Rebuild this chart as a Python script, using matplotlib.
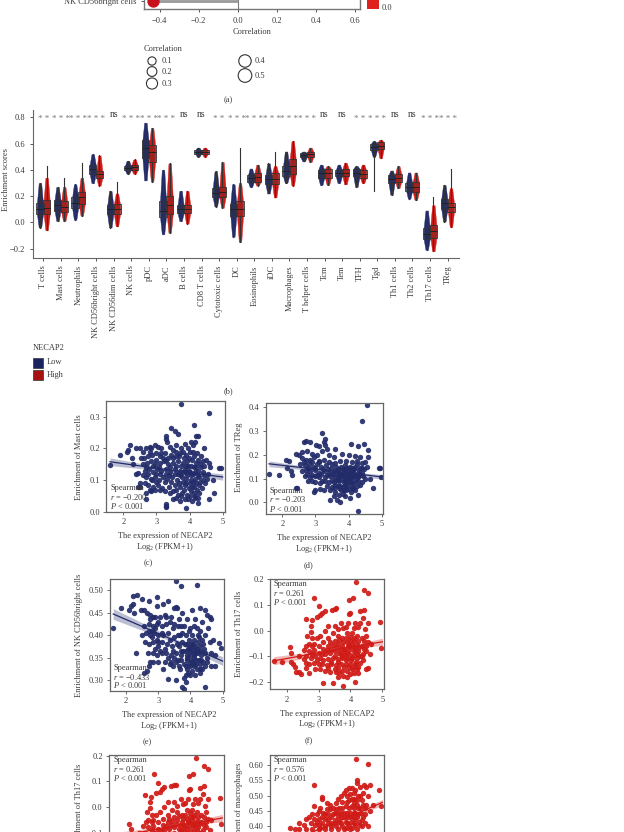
import matplotlib
matplotlib.use('Agg')
import matplotlib.pyplot as plt
from matplotlib.patches import Rectangle

plt.rcParams['font.family'] = ['Liberation Serif', 'DejaVu Serif']
plt.rcParams['mathtext.fontset'] = 'custom'
plt.rcParams['mathtext.rm'] = 'Liberation Serif'
plt.rcParams['mathtext.it'] = 'Liberation Serif:italic'

W, H = 624, 832
FS = 6.0
TXT = '#3a3a3a'
NAVY = '#232c6a'
RED = '#d01a16'

# panel a (only the last row is visible)
bright_corr = -0.433
legend_sizes = [0.1, 0.2, 0.3, 0.4, 0.5]

# panel b
cells = ['T cells', 'Mast cells', 'Neutrophils', 'NK CD56bright cells', 'NK CD56dim cells',
         'NK cells', 'pDC', 'aDC', 'B cells', 'CD8 T cells', 'Cytotoxic cells', 'DC',
         'Eosinophils', 'iDC', 'Macrophages', 'T helper cells', 'Tcm', 'Tem', 'TFH', 'Tgd',
         'Th1 cells', 'Th2 cells', 'Th17 cells', 'TReg']
signif = ['**', '***', '***', '***', 'ns', '***', '***', '***', 'ns', 'ns', '**', '***',
          '***', '***', '***', '***', 'ns', 'ns', '**', '***', 'ns', 'ns', '***', '***']
# min, q1, median, q3, max
low_stats = [(-.04, .06, .10, .15, .30), (.01, .09, .13, .17, .27), (.02, .11, .15, .19, .29),
             (.30, .37, .41, .44, .52), (-.04, .06, .10, .13, .24), (.37, .40, .415, .43, .47),
             (.32, .49, .57, .63, .76), (-.09, .04, .09, .16, .40), (.01, .07, .10, .13, .24),
             (.50, .525, .535, .55, .57), (.12, .19, .22, .26, .39), (-.11, .05, .10, .14, .29),
             (.27, .31, .34, .36, .41), (.22, .29, .33, .36, .45), (.30, .35, .39, .43, .54),
             (.465, .495, .51, .53, .54), (.285, .34, .375, .40, .44), (.30, .35, .375, .40, .44),
             (.27, .35, .38, .41, .43), (.24, .55, .575, .60, .62), (.21, .30, .33, .36, .395),
             (.18, .24, .27, .30, .38), (-.21, -.13, -.09, -.04, .09), (.005, .10, .15, .18, .285)]
high_stats = [(-.06, .06, .11, .17, .43), (.01, .08, .12, .16, .34), (.05, .14, .19, .23, .45),
              (.28, .34, .37, .39, .51), (-.03, .06, .10, .14, .31), (.37, .40, .42, .44, .48),
              (.31, .46, .54, .59, .72), (-.08, .06, .13, .20, .45), (-.01, .07, .10, .13, .24),
              (.50, .525, .535, .55, .57), (.11, .19, .23, .27, .46), (-.15, .05, .10, .16, .57),
              (.28, .31, .345, .38, .44), (.19, .29, .33, .38, .54), (.28, .37, .43, .48, .62),
              (.46, .50, .52, .54, .57), (.285, .34, .375, .41, .43), (.29, .35, .375, .41, .455),
              (.30, .34, .37, .40, .44), (.49, .56, .585, .61, .63), (.26, .31, .335, .37, .43),
              (.17, .23, .27, .31, .38), (-.22, -.12, -.07, -.02, .19), (-.035, .08, .12, .15, .41)]
# where the dots stop short of a long whisker: index -> (bottom, top)
low_strip_ends = {19: (.50, .62)}
high_strip_ends = {0: (-.06, .34), 1: (.01, .27), 2: (.05, .34), 4: (-.03, .22), 11: (-.15, .30),
                   13: (.19, .43), 22: (-.22, .13), 23: (-.035, .26)}

# scatter panels, points
mast_pts = [(3.73,.34),(4.58,.31),(3.43,.265),(4.13,.275),(3.55,.255),(3.65,.245),(3.3,.24),(3.3,.23),(3.32,.22),(4.2,.24),(4.26,.24),
 (4.05,.22),(4.15,.22),(4.1,.21),(4.45,.2),(1.6,.147),(1.9,.18),(2.2,.21),(2.15,.195),(2.1,.19),(2.25,.17),(2.3,.15),(2.4,.2),(2.5,.2),
 (2.45,.122),(2.38,.12),(2.5,.09),(2.5,.08),(2.45,.08),(2.7,.06),(2.7,.04),(3.3,.024),(3.3,.015),(3.28,.02),(3.9,.012),(4.25,.027),
 (4.95,.138),(4.9,.138),(4.7,.1),(4.75,.06),(4.6,.04),(2.6,.19),(2.7,.2),(2.8,.205),(2.95,.21),(3.05,.205),(3.15,.2),(3.4,.205),(3.6,.21),
 (3.75,.2),(3.85,.215),(2.62,.17),(2.75,.175),(2.88,.18),(3.0,.185),(3.12,.175),(3.25,.185),(3.45,.18),(3.58,.175),(3.7,.185),(3.9,.18),
 (4.02,.19),(4.22,.185),(4.35,.175),(4.5,.165),(4.58,.155),(4.62,.14),(2.6,.15),(2.72,.155),(2.85,.16),(2.97,.15),(3.1,.155),(3.22,.16),
 (3.35,.15),(3.5,.155),(3.65,.16),(3.8,.155),(3.93,.16),(4.08,.165),(4.2,.155),(4.33,.15),(4.45,.145),(2.65,.13),(2.78,.135),(2.9,.125),
 (3.02,.135),(3.15,.13),(3.28,.135),(3.42,.125),(3.56,.135),(3.7,.13),(3.85,.135),(3.98,.13),(4.12,.14),(4.27,.13),(4.4,.125),(4.55,.12),
 (2.7,.11),(2.83,.105),(2.95,.11),(3.08,.1),(3.2,.11),(3.33,.105),(3.48,.11),(3.62,.1),(3.76,.11),(3.9,.105),(4.03,.115),(4.17,.105),
 (4.3,.11),(4.42,.1),(2.75,.085),(2.9,.08),(3.05,.085),(3.18,.075),(3.38,.08),(3.55,.085),(3.72,.08),(3.86,.085),(4.0,.09),(4.14,.08),
 (4.28,.085),(4.48,.09),(2.85,.065),(3.1,.07),(3.4,.06),(3.6,.045),(3.78,.06),(3.92,.055),(4.05,.065),(4.18,.05),(4.3,.06),(3.5,.04),
 (3.7,.035),(3.85,.04),(4.08,.035),(4.15,.045),(3.65,.12),(3.95,.145),(4.1,.12),(3.3,.12),(3.0,.12),(3.8,.095),(4.05,.1),(3.9,.125)]
mast_core = [(2.68,.14),(2.8,.19),(2.9,.145),(3.0,.165),(3.08,.14),(3.2,.17),(3.3,.165),(3.4,.14),(3.5,.17),(3.58,.145),(3.68,.175),(3.75,.145),(3.82,.17),
 (3.9,.145),(3.98,.17),(4.05,.145),(4.12,.175),(4.2,.14),(4.27,.165),(4.35,.14),(4.42,.16),(2.75,.12),(2.88,.1),(3.0,.095),(3.12,.12),(3.25,.095),(3.38,.115),
 (3.45,.095),(3.55,.12),(3.6,.07),(3.68,.09),(3.72,.115),(3.8,.125),(3.83,.07),(3.88,.09),(3.93,.115),(3.97,.075),(4.02,.125),(4.07,.08),(4.1,.095),(4.15,.125),
 (4.2,.09),(4.22,.07),(4.25,.115),(4.33,.095),(4.38,.075),(4.45,.115),(4.52,.105),(3.5,.065),(3.65,.055),(3.75,.05),(3.95,.04),(4.0,.05),(4.12,.06),(4.25,.045),
 (3.35,.17),(3.6,.19),(3.8,.19),(3.95,.2),(4.1,.19),(2.55,.17),(2.85,.2),(3.15,.185),(3.5,.195),(2.95,.07),(3.25,.065),(2.65,.09),(2.6,.115),(2.8,.07)]
treg_pts = [(4.57,.41),(4.42,.34),(3.2,.29),(3.28,.265),(3.25,.255),(2.72,.26),(2.65,.255),(2.85,.255),(3.02,.24),(3.1,.235),(4.07,.245),
 (4.48,.245),(3.3,.24),(3.35,.225),(3.6,.225),(4.58,.22),(4.3,.235),(1.6,.12),(1.9,.115),(2.1,.18),(2.2,.175),(2.15,.145),(2.25,.13),
 (2.3,.115),(2.4,.205),(2.5,.2),(2.4,.06),(2.45,.06),(3.0,.05),(2.95,.045),(3.15,.055),(3.25,.05),(3.45,.01),(3.55,.025),(3.65,.01),(3.75,.0),
 (3.9,.025),(4.05,.02),(4.3,-.037),(4.3,.03),(4.95,.145),(4.92,.145),(4.97,.105),(4.75,.06),(4.65,.1),(4.6,.19),(4.5,.17),(2.6,.21),
 (2.75,.215),(2.9,.205),(3.05,.2),(3.2,.215),(3.4,.2),(3.55,.19),(3.8,.205),(4.0,.2),(4.2,.195),(4.35,.19),(2.6,.185),(2.72,.18),(2.85,.18),
 (2.97,.19),(3.12,.175),(3.27,.18),(3.42,.17),(3.6,.165),(3.75,.175),(3.93,.175),(4.1,.17),(4.25,.175),(4.4,.165),(4.55,.15),(2.55,.16),
 (2.68,.155),(2.8,.16),(2.92,.15),(3.05,.16),(3.18,.15),(3.32,.155),(3.48,.145),(3.62,.15),(3.78,.15),(3.9,.155),(4.05,.15),(4.2,.15),
 (4.35,.145),(4.48,.14),(2.6,.13),(2.72,.135),(2.85,.13),(2.98,.135),(3.1,.125),(3.25,.13),(3.4,.125),(3.55,.13),(3.7,.125),(3.85,.13),
 (4.0,.13),(4.13,.135),(4.28,.125),(4.42,.125),(2.7,.11),(2.83,.105),(2.98,.11),(3.12,.105),(3.28,.105),(3.45,.11),(3.6,.105),(3.75,.11),
 (3.88,.105),(4.02,.11),(4.15,.105),(4.3,.11),(4.5,.1),(2.78,.09),(3.0,.085),(3.2,.09),(3.4,.085),(3.55,.085),(3.7,.09),(3.85,.085),(3.98,.09),
 (4.12,.085),(4.28,.09),(4.42,.085),(3.35,.07),(3.5,.065),(3.68,.07),(3.82,.065),(3.95,.07),(4.1,.065),(4.25,.07),(3.45,.05),(3.6,.045),
 (3.78,.05),(3.92,.05),(4.08,.045),(4.2,.05),(3.9,.12),(3.95,.1),(4.05,.12),(3.8,.115),(4.1,.12)]
treg_core = [(2.65,.17),(2.78,.145),(2.9,.17),(3.0,.145),(3.1,.17),(3.22,.14),(3.38,.14),(3.5,.16),(3.65,.135),(3.72,.14),(3.82,.14),(3.88,.14),(3.96,.145),(4.03,.14),
 (4.1,.145),(4.18,.14),(4.25,.16),(4.32,.135),(4.4,.145),(2.75,.12),(2.9,.115),(3.05,.115),(3.18,.12),(3.35,.115),(3.5,.12),(3.6,.12),(3.68,.1),(3.72,.115),(3.78,.1),
 (3.85,.12),(3.9,.095),(3.95,.115),(4.0,.1),(4.05,.095),(4.1,.11),(4.15,.125),(4.2,.115),(4.22,.095),(4.28,.105),(4.35,.115),(4.45,.11),(3.6,.075),(3.75,.07),(3.88,.075),
 (3.92,.085),(4.05,.08),(4.18,.08),(4.35,.075),(3.5,.095),(3.65,.095),(3.3,.09),(3.15,.08),(2.9,.09),(3.55,.06),(3.72,.06),(3.85,.05),(4.0,.055),(4.15,.06),(3.7,.03),(3.82,.035)]
bright_pts = [(3.55,.52),(3.72,.51),(4.2,.512),(2.35,.49),(2.2,.487),(2.5,.48),(2.7,.475),(2.95,.485),(3.3,.475),(3.15,.47),(1.6,.415),
 (1.85,.46),(2.1,.455),(2.15,.465),(2.2,.47),(2.25,.45),(2.45,.455),(2.55,.455),(2.95,.465),(3.5,.46),(3.55,.462),(3.58,.46),(3.75,.45),
 (4.05,.455),(4.3,.46),(4.45,.455),(4.5,.445),(4.6,.44),(4.65,.435),(2.3,.36),(2.65,.45),(2.75,.445),(2.85,.44),(3.05,.44),(3.2,.445),(3.4,.44),
 (3.65,.435),(3.9,.435),(4.15,.435),(4.35,.43),(2.55,.42),(2.7,.425),(2.82,.42),(2.95,.425),(3.1,.42),(3.25,.425),(3.45,.415),(3.6,.42),
 (3.8,.42),(4.0,.415),(4.2,.415),(4.55,.415),(2.5,.4),(2.62,.405),(2.75,.4),(2.88,.405),(3.0,.4),(3.15,.4),(3.3,.405),(3.5,.395),(3.68,.4),
 (3.85,.4),(4.05,.4),(4.25,.395),(4.45,.4),(2.6,.385),(2.72,.38),(2.85,.385),(2.98,.375),(3.12,.385),(3.28,.38),(3.42,.375),(3.58,.38),(3.75,.385),
 (3.9,.38),(4.08,.38),(4.22,.385),(4.4,.38),(4.6,.385),(2.68,.36),(2.82,.36),(2.95,.355),(3.1,.36),(3.25,.36),(3.4,.355),(3.55,.36),(3.7,.365),
 (3.85,.365),(4.0,.365),(4.15,.36),(4.3,.365),(4.45,.36),(2.85,.34),(3.0,.34),(3.2,.34),(3.35,.335),(3.55,.34),(3.72,.345),(3.88,.35),(4.02,.345),
 (4.18,.345),(4.32,.345),(4.5,.34),(3.15,.325),(3.45,.33),(3.68,.325),(3.85,.33),(3.98,.33),(4.12,.33),(4.28,.325),(4.45,.33),(4.65,.33),(4.75,.33),
 (2.55,.315),(2.65,.32),(2.7,.33),(2.75,.34),(3.3,.302),(3.55,.3),(3.8,.305),(3.85,.295),(4.0,.31),(4.15,.31),(4.3,.315),(3.75,.285),(3.8,.28),
 (4.45,.285),(4.9,.382),(4.95,.372),(4.7,.39),(4.75,.355),(4.65,.36),(3.95,.37),(4.1,.355),(3.9,.355),(4.05,.375),(4.2,.37)]
bright_core = [(2.7,.41),(2.8,.395),(2.9,.415),(3.0,.385),(3.1,.405),(2.75,.435),(2.9,.44),(3.0,.43),(3.25,.44),(3.35,.43),(3.35,.39),(3.5,.425),(3.6,.4),(3.65,.375),(3.75,.405),
 (3.78,.365),(3.82,.38),(3.88,.345),(3.92,.37),(3.95,.39),(3.98,.355),(4.02,.38),(4.05,.34),(4.08,.365),(4.1,.39),(4.12,.35),(4.15,.375),(4.18,.335),(4.2,.36),(4.22,.4),(4.25,.345),
 (4.28,.375),(4.32,.355),(4.35,.39),(4.38,.34),(4.42,.37),(4.5,.35),(3.6,.345),(3.65,.33),(3.72,.355),(3.8,.335),(3.9,.325),(3.95,.335),(4.05,.32),(4.1,.335),(4.2,.325),(4.3,.335),
 (4.35,.325),(3.4,.34),(3.45,.365),(3.5,.35),(3.3,.35),(3.2,.37),(3.05,.365),(2.9,.37),(2.8,.41),(2.95,.39),(3.7,.42),(3.95,.41),(4.1,.42),(4.3,.41),(3.85,.31),(3.92,.315)]
th17_pts = [(4.18,.19),(4.42,.16),(4.55,.148),(2.87,.128),(4.08,.127),(3.95,.12),(3.0,.095),(3.42,.08),(3.5,.085),(3.55,.087),(3.2,.077),(3.12,.07),
 (3.05,.06),(2.95,.055),(3.98,.07),(3.95,.065),(4.3,.075),(4.42,.08),(4.4,.05),(4.3,.03),(4.55,.03),(4.92,.035),(2.6,.045),(2.78,.04),(2.75,.02),
 (1.6,-.117),(1.85,-.12),(2.1,-.065),(2.15,-.085),(2.15,-.12),(2.2,-.13),(2.25,-.14),(2.3,-.16),(2.4,-.16),(2.45,-.17),(2.4,-.1),(2.55,-.11),(2.6,-.145),
 (2.7,-.165),(3.15,-.205),(3.45,-.205),(3.6,-.18),(3.78,-.217),(3.9,-.18),(4.0,-.17),(4.15,-.2),(4.25,-.165),(4.5,-.15),(4.55,-.145),(4.97,-.068),
 (2.75,-.005),(2.8,-.03),(3.05,-.02),(3.3,.02),(3.5,.02),(3.7,.03),(3.78,.01),(3.92,.03),(4.15,.03),(4.25,.015),(4.45,.005),(2.7,-.05),(2.85,-.05),
 (3.0,-.06),(3.15,-.045),(3.3,-.03),(3.45,-.01),(3.6,-.02),(3.75,-.03),(3.9,-.01),(4.05,-.01),(4.2,-.02),(4.35,-.03),(4.5,-.02),(4.65,-.05),
 (2.55,-.075),(2.7,-.08),(2.85,-.075),(3.0,-.085),(3.15,-.07),(3.3,-.06),(3.45,-.055),(3.6,-.05),(3.75,-.06),(3.9,-.045),(4.05,-.05),(4.2,-.055),
 (4.35,-.06),(4.5,-.06),(2.6,-.1),(2.75,-.105),(2.9,-.1),(3.05,-.105),(3.2,-.09),(3.35,-.085),(3.5,-.08),(3.65,-.085),(3.8,-.08),(3.95,-.075),(4.1,-.08),
 (4.25,-.08),(4.4,-.09),(2.7,-.13),(2.85,-.125),(3.0,-.13),(3.15,-.115),(3.3,-.11),(3.45,-.105),(3.6,-.11),(3.75,-.105),(3.9,-.105),(4.05,-.105),
 (4.2,-.105),(4.38,-.115),(2.9,-.15),(3.05,-.15),(3.25,-.135),(3.4,-.13),(3.55,-.135),(3.7,-.13),(3.85,-.13),(4.0,-.13),(4.15,-.13),(4.3,-.125),
 (3.35,-.16),(3.55,-.16),(3.72,-.155),(3.88,-.155),(4.05,-.15),(4.2,-.15),(3.8,-.07),(3.95,-.06),(4.1,-.04),(3.7,-.09)]
th17_core = [(2.8,-.09),(2.95,-.115),(3.1,-.09),(3.25,-.075),(3.4,-.07),(3.5,-.1),(3.55,-.065),(3.62,-.12),(3.68,-.07),(3.72,-.1),(3.78,-.045),(3.82,-.095),(3.85,-.115),(3.9,-.085),(3.92,-.06),
 (3.98,-.095),(4.0,-.04),(4.02,-.115),(4.08,-.065),(4.12,-.095),(4.15,-.07),(4.18,-.12),(4.22,-.09),(4.28,-.065),(4.3,-.1),(4.42,-.07),(4.5,-.08),(3.35,-.045),(3.5,-.04),(3.65,-.035),(3.85,-.03),
 (4.0,-.025),(4.12,-.03),(4.25,-.04),(3.4,-.12),(3.3,-.145),(3.5,-.15),(3.6,-.145),(3.8,-.14),(3.95,-.14),(4.1,-.14),(4.25,-.14),(2.6,-.125),(2.8,-.06),(2.95,-.03),(3.2,.0),(3.6,.005),(3.85,.015),
 (4.1,.01),(2.65,-.02),(2.62,-.06),(3.1,-.13),(3.2,-.155),(3.65,-.165),(3.78,-.175),(4.12,-.165),(4.35,-.1),(4.42,-.04),(4.55,-.045),(4.6,-.09)]
macro_pts = [(4.18,.62),(4.55,.603),(2.87,.535),(4.2,.55),(4.22,.54),(4.42,.535),(4.6,.535),(3.95,.525),(4.05,.525),(4.3,.53),(4.5,.53),(4.15,.52),(3.85,.52),
 (4.9,.52),(3.8,.51),(4.4,.51),(4.55,.5),(3.1,.495),(3.12,.49),(3.7,.5),(4.0,.505),(4.25,.5),(3.35,.47),(3.55,.475),(3.75,.48),(3.95,.485),(4.1,.49),
 (4.35,.485),(4.5,.47),(4.7,.47),(4.95,.465),(2.85,.465),(3.05,.46),(3.25,.455),(3.45,.46),(3.65,.46),(3.85,.465),(4.05,.465),(4.2,.47),(4.3,.46),(4.6,.45),
 (2.95,.44),(3.15,.445),(3.3,.44),(3.5,.445),(3.7,.445),(3.9,.445),(4.1,.445),(4.25,.44),(4.45,.44),(2.6,.425),(2.7,.43),(2.85,.425),(3.0,.425),(3.2,.425),
 (3.4,.43),(3.6,.43),(3.8,.43),(4.0,.43),(4.15,.425),(4.35,.42),(2.4,.41),(2.55,.405),(2.75,.41),(2.9,.405),(3.1,.41),(3.3,.41),(3.5,.41),(3.7,.41),(3.9,.41),
 (4.1,.41),(4.3,.405),(4.45,.41),(4.55,.4),(2.1,.395),(2.25,.39),(2.4,.39),(2.6,.39),(2.8,.39),(3.0,.39),(3.2,.39),(3.4,.39),(3.6,.39),(3.8,.39),(4.0,.39),(4.2,.39)]
macro_core = [(3.0,.405),(3.1,.43),(3.2,.4),(3.3,.425),(3.4,.41),(3.45,.44),(3.5,.42),(3.55,.4),(3.6,.445),(3.65,.415),(3.7,.43),(3.75,.4),(3.75,.46),(3.8,.445),(3.85,.415),(3.88,.48),(3.9,.43),(3.95,.4),
 (3.95,.46),(4.0,.445),(4.02,.415),(4.05,.49),(4.08,.43),(4.1,.475),(4.12,.46),(4.15,.405),(4.15,.445),(4.2,.485),(4.22,.43),(4.25,.46),(4.28,.415),(4.3,.5),(4.33,.445),(4.4,.47),(4.4,.43),(4.45,.46),
 (3.35,.455),(3.2,.44),(2.95,.415),(3.55,.455),(3.62,.49),(3.9,.5),(4.12,.51),(3.0,.45),(3.25,.475),(3.4,.4),(2.8,.44),(3.05,.395),(3.85,.395),(4.05,.395),(4.35,.4)]

reg_x = [1.6, 3.6, 5.0]
mast_fit, mast_band = [.158, .129, .11], [.012, .004, .01]
treg_fit, treg_band = [.162, .130, .107], [.012, .004, .01]
bright_fit, bright_band = [.447, .385, .342], [.012, .004, .01]
th17_fit, th17_band = [-.117, -.073, -.043], [.016, .005, .014]
macro_fit, macro_band = [.33, .415, .478], [.012, .004, .01]

fig = plt.figure(figsize=(W / 100, H / 100), dpi=100)


def px_axes(l, t, r, b):
    return fig.add_axes([l / W, 1 - b / H, (r - l) / W, (b - t) / H])


def px_text(x, y, s, **kw):
    kw.setdefault('fontsize', FS)
    kw.setdefault('color', TXT)
    kw.setdefault('ha', 'center')
    kw.setdefault('va', 'center')
    fig.text(x / W, 1 - y / H, s, **kw)


# ---- panel a
ax = px_axes(144, -100, 360, 9)
ax.set_xlim(-0.48, 0.625)
ax.set_ylim(-0.75, 10)
ax.axvline(0, color='#777777', lw=0.8)
ax.hlines(0, bright_corr, 0, color='#999999', lw=2)
ax.scatter([bright_corr], [0], s=62, color='#c8101a', zorder=3, clip_on=False)
ax.set_yticks([0], ['NK CD56bright cells'], fontsize=FS, color=TXT)
ax.set_xticks([-0.4, -0.2, 0, 0.2, 0.4, 0.6], ['\u22120.4', '\u22120.2', '0.0', '0.2', '0.4', '0.6'], fontsize=FS, color=TXT)
ax.tick_params(length=2.5, width=0.7, color='#555555', pad=3)
for s in ax.spines.values():
    s.set_color('#777777')
    s.set_linewidth(1)
fig.add_artist(Rectangle((367 / W, 1 - 9 / H), 12 / W, 20 / H, transform=fig.transFigure, color='#e0201c', lw=0))
px_text(387, 8, '0.0')
px_text(252, 32, 'Correlation')

# size legend
px_text(144, 49, 'Correlation', ha='left')
leg_x = [152, 152, 152, 245, 245]
leg_y = [61, 71.5, 83.5, 61, 75.5]
for v, lx, ly in zip(legend_sizes, leg_x, leg_y):
    r = 3.1 + 6.5 * v ** 0.8
    fig.add_artist(plt.Circle((lx, H - ly), r, transform=None, fill=False, ec='#333333', lw=0.8))
    px_text(lx + 9.5, ly, f'{v:.1f}', ha='left')
px_text(228, 100, '(a)')

# ---- panel b
ax = px_axes(33, 110, 458.7, 257.7)
ax.set_xlim(-0.586, 23.63)
ax.set_ylim(-0.27, 0.857)
offset = 0.19
prof = [0.07, 0.17, 0.18, 0.17, 0.07]
for i in range(len(cells)):
    for stats, col, sgn, ends in ((low_stats[i], NAVY, -1, low_strip_ends), (high_stats[i], RED, 1, high_strip_ends)):
        xc = i + sgn * offset
        lo = [xc - p for p in prof]
        hi = [xc + p for p in prof]
        bottom, top = ends.get(i, (stats[0], stats[4]))
        ax.fill_betweenx([bottom, stats[1], stats[2], stats[3], top], lo, hi, color=col, lw=0.3, zorder=3)
        ax.bxp([{'whislo': stats[0], 'q1': stats[1], 'med': stats[2], 'q3': stats[3], 'whishi': stats[4]}],
               positions=[xc], widths=0.42, showfliers=False, showcaps=False, manage_ticks=False,
               patch_artist=True, boxprops=dict(facecolor=(0.2, 0.2, 0.2, 0.3), edgecolor='#333333', lw=0.6),
               whiskerprops=dict(color='#333333', lw=0.8), medianprops=dict(color='#222222', lw=0.7), zorder=4)
    if signif[i] == 'ns':
        ax.text(i, 0.785, 'ns', ha='center', va='bottom', fontsize=7, color=TXT)
    else:
        ax.text(i, 0.755, signif[i].replace('*', '* ').strip(), ha='center', va='bottom', fontsize=6.5, color='#777777')
ax.set_xticks(range(len(cells)), cells, rotation=90, fontsize=FS, color=TXT)
ax.set_yticks([-0.2, 0, 0.2, 0.4, 0.6, 0.8], ['\u22120.2', '0.0', '0.2', '0.4', '0.6', '0.8'], fontsize=FS, color=TXT)
ax.tick_params(length=2.5, width=0.7, color='#555555', pad=3)
ax.spines[['top', 'right']].set_visible(False)
for s in ('left', 'bottom'):
    ax.spines[s].set_color('#666666')
px_text(6, 180, 'Enrichment scores', rotation=90)

px_text(33, 348, 'NECAP2', ha='left')
for top, label, col, ly in ((358, 'Low', '#1a2260', 362.5), (370, 'High', '#a5120f', 375)):
    fig.add_artist(Rectangle((33 / W, 1 - (top + 9.5) / H), 10 / W, 9.5 / H, transform=fig.transFigure,
                             fc=col, ec='#333333', lw=0.5))
    px_text(47, ly, label, ha='left')
px_text(228, 391, '(b)')


# ---- scatter panels
def scatter_panel(box, xlim, ylim, yticks, ylabels, pts, fit, band, col, ylabel, ylab_pos, stat, stat_pos, xlab_pos, cap=None):
    l, t, r, b = box
    a = px_axes(l, t, r, b)
    a.set_xlim(*xlim)
    a.set_ylim(*ylim)
    a.scatter([p[0] for p in pts], [p[1] for p in pts], s=15, color=col, alpha=0.92, lw=0, zorder=2)
    a.fill_between(reg_x, [f - w for f, w in zip(fit, band)], [f + w for f, w in zip(fit, band)],
                   color=col, alpha=0.3, lw=0, zorder=3)
    a.plot(reg_x, fit, color=col, lw=0.9, zorder=4)
    a.set_xticks([2, 3, 4, 5], ['2', '3', '4', '5'], fontsize=FS, color=TXT)
    a.set_yticks(yticks, ylabels, fontsize=FS, color=TXT)
    a.tick_params(length=2, width=0.6, color='#555555', pad=2.5)
    for s in a.spines.values():
        s.set_color('#666666')
        s.set_linewidth(0.9)
    px_text(ylab_pos[0], ylab_pos[1], ylabel, rotation=90)
    sx, sy = stat_pos
    px_text(sx, sy, 'Spearman', ha='left', zorder=6)
    px_text(sx, sy + 9, '$r$ = ' + stat, ha='left', zorder=6)
    px_text(sx, sy + 18, '$P$ < 0.001', ha='left', zorder=6)
    if xlab_pos:
        px_text(xlab_pos, b + 24.5, 'The expression of NECAP2')
        px_text(xlab_pos, b + 35, 'Log$_2$ (FPKM+1)')
    if cap:
        px_text(cap, b + 51.5, cap_labels[cap])


cap_labels = {148: '(c)', 308: '(d)', 147: '(e)', 309: '(f)'}

scatter_panel((106, 401, 225, 512), (1.48, 5.07), (0, .349), [0, .1, .2, .3], ['0.0', '0.1', '0.2', '0.3'],
              mast_pts + mast_core, mast_fit, mast_band, NAVY, 'Enrichment of Mast cells', (79, 457),
              '\u22120.200', (110, 488), 165, 148)
scatter_panel((265.7, 402.7, 383.3, 514), (1.5, 5.05), (-.049, .419), [0, .1, .2, .3, .4], ['0.0', '0.1', '0.2', '0.3', '0.4'],
              treg_pts + treg_core, treg_fit, treg_band, NAVY, 'Enrichment of TReg', (239, 457),
              '\u22120.203', (269, 490.5), 324, 308)
scatter_panel((110, 579, 224.3, 690.7), (1.5, 5.05), (.276, .525), [.3, .35, .4, .45, .5], ['0.30', '0.35', '0.40', '0.45', '0.50'],
              bright_pts + bright_core, bright_fit, bright_band, NAVY, 'Enrichment of NK CD56bright cells', (79, 635),
              '\u22120.433', (113, 667.5), 169, 147)
scatter_panel((270, 579, 384, 689.3), (1.48, 5.05), (-.228, .2014), [-.2, -.1, 0, .1, .2], ['\u22120.2', '\u22120.1', '0.0', '0.1', '0.2'],
              th17_pts + th17_core, th17_fit, th17_band, RED, 'Enrichment of Th17 cells', (239, 634),
              '0.261', (273, 584), 327, 309)
scatter_panel((109, 755, 224, 865), (1.48, 5.05), (-.2266, .203), [-.2, -.1, 0, .1, .2], ['\u22120.2', '\u22120.1', '0.0', '0.1', '0.2'],
              th17_pts + th17_core, th17_fit, th17_band, RED, 'Enrichment of Th17 cells', (79, 807),
              '0.261', (113, 760), None)
scatter_panel((270, 755, 384, 870), (1.48, 5.05), (.257, .633), [.3, .35, .4, .45, .5, .55, .6], ['0.30', '0.35', '0.40', '0.45', '0.50', '0.55', '0.60'],
              macro_pts + macro_core, macro_fit, macro_band, RED, 'Enrichment of macrophages', (239, 810),
              '0.576', (273, 760), None)

fig.savefig('out.png', dpi=100)
